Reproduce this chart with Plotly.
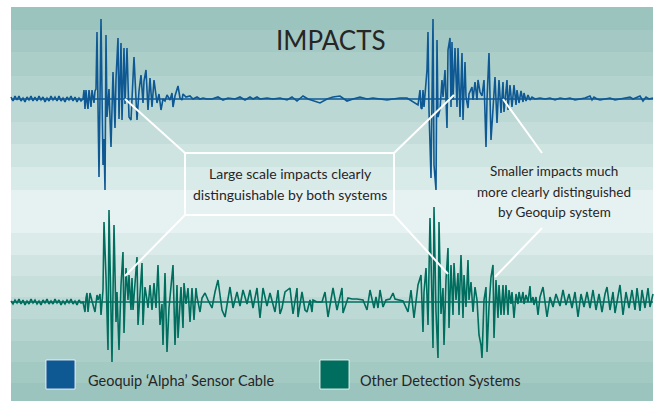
import plotly.graph_objects as go

# ---------------- data ----------------
title_text = "IMPACTS"
series_names = ["Geoquip \u2018Alpha\u2019 Sensor Cable", "Other Detection Systems"]
series_colors = ["#0e5894", "#006e5e"]
note_left = ["Large scale impacts clearly", "distinguishable by both systems"]
note_right = ["Smaller impacts much", "more clearly distinguished", "by Geoquip system"]

# (time, amplitude) samples of the Geoquip trace
blue_samples = [
    (11,2),(13,-2),(15,3),(17,-1),(19,3),(21,-2),(23,1),(25,-3),(27,2),(29,-1),(31,3),(33,-2),(35,2),(37,-2),
    (39,3),(41,-1),(43,2),(45,-3),(47,1),(49,-2),(51,3),(53,-1),(55,2),(57,-2),(59,3),(61,-2),(63,1),(65,-3),
    (67,2),(69,-1),(71,3),(73,-2),(75,2),(77,-3),(79,1),(81,-2),
    (83,0),(84,9),(85,-10),(86,9),(87,-3),(88,-10),(89,9),(90,-1),(91,-8),(92,9),(93,2),(94,-4),(95,8),
    (96,10),(97,67),(99,-78),(101,80),(103,-66),(104,-40),(105,-91),(106,64),(107,-18),(109,10),(111,-48),
    (113,27),(115,-29),(116,20),(118,61),(119,-20),(121,56),(122,-21),(124,51),(125,-5),(127,51),(129,-18),
    (131,-21),(134,42),(137,-21),(139,8),(141,24),(143,-4),(144,18),(146,29),(148,-11),(150,21),(152,-8),
    (154,19),(157,-4),(159,5),(161,-11),(163,0),
    (165,-2),(167,4),(170,-1),(172,6),(173,-8),(175,3),(178,13),(180,1),(182,-1),(183,5),(186,2),(190,3),
    (193,0),(197,2),(200,0),(203,1),(207,0),
    (212,0),(218,2),(223,-1),(228,1),(235,0),(240,2),(245,-1),(250,2),(253,0),(257,2),(260,0),(267,1),
    (273,0),(280,1),(287,-1),(292,2),(297,-2),(303,3),(308,0),(313,-2),(320,-4),(327,0),(333,2),(340,3),
    (347,-2),(353,0),(360,2),(367,0),(373,1),(380,0),(387,-1),(393,0),(400,1),(407,1),(413,-3),(418,-6),
    (420,9),(421,-9),(422,-10),(423,9),(424,-8),(425,5),(427,29),(428,67),(429,-11),(431,-79),(433,80),
    (434,-66),(436,-91),(437,59),(438,-18),(440,-10),(442,19),(443,2),(445,29),(447,-29),(448,49),(450,61),
    (451,-8),(452,57),(453,-1),(455,51),(457,-8),(458,51),(460,-18),(462,46),(463,-21),(465,37),(466,2),
    (468,-9),(469,5),(472,12),(473,-1),(475,17),(477,-1),(478,19),(480,7),(482,3),(484,19),(486,-48),
    (487,-1),(489,46),(491,-41),(493,-10),(495,22),(497,-24),(499,19),(501,-14),(503,17),(504,-13),
    (507,19),(508,-11),(510,14),(512,-8),(514,14),(516,-6),(517,9),(519,-4),(521,8),(523,-3),(524,6),
    (526,-2),(528,4),(530,-1),(532,2),(535,0),(540,1),
    (545,0),(550,1),(555,-1),(560,1),(565,0),(570,1),(575,-1),(580,0),(585,1),(590,3),(592,-1),(594,2),
    (597,0),(600,-1),(605,0),(610,1),(615,-1),(620,0),(625,1),(630,2),(633,0),(636,1),(640,3),(643,-2),
    (646,2),(649,0),(653,1),
]

# (time, amplitude) samples of the other systems' trace
green_samples = [
    (11,1),(13,-2),(15,2),(17,-1),(19,3),(21,-2),(23,2),(25,-3),(27,1),(29,-2),(31,3),(33,-1),(35,2),(37,-2),
    (39,1),(41,-3),(43,2),(45,-1),(47,3),(49,-2),(51,1),(53,-2),(55,3),(57,-1),(59,2),(61,-3),(63,1),(65,-2),
    (67,2),(69,-1),(71,3),(73,-2),(75,1),(77,-3),(79,2),(81,-1),
    (83,0),(85,-10),(86,4),(87,9),(88,-10),(90,9),(92,1),(95,-10),(97,7),(98,2),(100,8),(101,-13),(103,12),
    (104,80),(106,25),(108,-48),(109,92),(111,2),(112,-60),(114,77),(116,-20),(117,10),(119,-48),(121,17),
    (123,50),(124,-31),(126,34),(128,2),(129,27),(131,-8),(132,24),(133,-8),(135,24),(137,45),(138,-23),
    (140,12),(142,39),(143,-23),(145,15),(147,2),(148,-6),(150,17),(152,-8),(154,19),(156,-6),(158,37),
    (160,-23),(162,-2),(163,-43),(165,29),(167,-50),(169,-6),(171,20),(173,37),(175,-43),(177,17),(178,-36),
    (181,15),(183,-26),(184,19),(186,-2),(188,14),(190,-20),(192,14),(194,-18),(196,14),(197,5),(200,-10),
    (202,4),
    (205,9),(208,2),(212,-6),(215,10),(218,22),(222,-8),(225,-15),(230,15),(233,-6),(237,10),(240,-4),
    (243,12),(247,-2),(250,12),(253,-6),(257,14),(260,-16),(263,14),(267,-4),(270,9),(275,-10),(278,12),
    (280,-12),(282,-6),(285,10),(290,14),(293,-12),(297,14),(298,-15),(302,10),(305,-8),(307,-10),(310,2),
    (312,-10),(313,2),(317,0),(322,0),(325,10),(328,-15),(333,14),(337,-8),(342,14),(343,-11),(348,4),
    (352,3),(357,3),(363,2),(367,-8),(370,12),(374,-6),(376,5),(378,-6),(380,12),(383,-5),(386,2),(390,3),
    (393,9),(395,3),(398,2),(403,1),(408,-10),(411,12),
    (414,-16),(416,0),(418,17),(421,27),(423,-30),(424,10),(426,34),(428,-23),(429,27),(430,84),(432,0),
    (433,-46),(434,95),(436,-10),(438,-56),(439,80),(441,-12),(443,14),(444,-43),(446,22),(448,54),(449,-26),
    (451,37),(453,-13),(454,39),(456,2),(458,29),(459,-13),(461,47),(463,-16),(464,27),(466,-5),(468,42),
    (469,2),(471,20),(473,-10),(475,15),(477,2),(479,-33),(481,-43),(482,-56),(484,2),(486,15),(487,-50),
    (489,-5),(491,25),(493,37),(494,-36),(496,22),(498,-16),(499,17),(501,-13),(503,17),(504,-13),(506,17),
    (508,-13),(509,12),(511,-2),(512,10),(514,-16),(516,8),(518,-2),(519,10),(521,0),(523,10),(524,-2),
    (526,7),(528,0),(530,16),(531,0),(533,5),(534,-3),(536,5),(538,-13),
    (540,5),(543,15),(545,0),(547,-15),(550,5),(553,-5),(556,8),(560,-4),(563,12),(566,-3),(569,8),(572,-6),
    (575,10),(578,-15),(581,8),(584,-5),(587,10),(590,-6),(593,12),(596,-8),(599,8),(602,-10),(605,8),
    (607,15),(610,-8),(613,10),(615,-11),(618,8),(620,17),(623,-13),(626,10),(629,-6),(632,12),(635,-8),
    (637,14),(640,-9),(642,12),(645,-6),(648,14),(650,-5),(653,8),
]

# ---------------- layout constants ----------------
W, H = 657, 401
PANEL_X0, PANEL_X1, PANEL_Y0 = 11, 653, 7
BLUE_BASE, GREEN_BASE = 99, 302
FONT = "Lato, 'Open Sans', sans-serif"
TEXT_COLOR = "#262626"

stripe_edges = [7, 30, 52, 76, 99, 122, 144, 167, 190, 233, 255, 276, 297, 319, 341, 362, 383, 401]
stripe_colors = ["#9cc4be", "#a4c9c4", "#abcec9", "#b3d3ce", "#bbd8d4", "#c4ddda", "#cee4e1", "#d9ebe9",
                 "#e6f1f1", "#dbebe9", "#d0e5e2", "#c6dfdb", "#bdd9d5", "#b4d4cf", "#abcec9", "#a3c9c3",
                 "#9cc4be"]

shapes = []
for i, c in enumerate(stripe_colors):
    shapes.append(dict(type="rect", xref="x", yref="y", x0=PANEL_X0, x1=PANEL_X1,
                       y0=stripe_edges[i], y1=stripe_edges[i + 1], fillcolor=c,
                       line=dict(width=0), layer="below"))

# zero lines
for base, col in [(BLUE_BASE, series_colors[0]), (GREEN_BASE, series_colors[1])]:
    shapes.append(dict(type="line", xref="x", yref="y", x0=PANEL_X0, x1=PANEL_X1, y0=base, y1=base,
                       line=dict(color=col, width=1.3), layer="below"))

white = dict(color="white", width=2)
shapes.append(dict(type="rect", xref="x", yref="y", x0=185, x1=394, y0=153, y1=215, line=white))
for (xa, ya, xb, yb) in [(185, 153, 125, 99), (394, 153, 454, 95), (185, 215, 125, 276),
                         (394, 215, 448, 274), (542, 153, 503, 99), (542, 228, 495, 277)]:
    shapes.append(dict(type="line", xref="x", yref="y", x0=xa, y0=ya, x1=xb, y1=yb, line=white))

# legend squares
for x0, col in [(46, series_colors[0]), (320, series_colors[1])]:
    shapes.append(dict(type="rect", xref="x", yref="y", x0=x0, x1=x0 + 29, y0=360, y1=389,
                       fillcolor=col, line=dict(color="rgba(255,255,255,0.8)", width=1)))

fig = go.Figure()
for samples, base, name, col in [(blue_samples, BLUE_BASE, series_names[0], series_colors[0]),
                                 (green_samples, GREEN_BASE, series_names[1], series_colors[1])]:
    t = [s[0] for s in samples]
    a = [s[1] for s in samples]
    fig.add_trace(go.Scatter(x=t, y=[base - v for v in a], mode="lines", name=name,
                             line=dict(color=col, width=1.6), hoverinfo="skip"))

annotations = [
    dict(x=331, y=40, text=title_text, showarrow=False, xref="x", yref="y",
         font=dict(family=FONT, size=26, color=TEXT_COLOR)),
]
for i, line in enumerate(note_left):
    annotations.append(dict(x=290, y=173 + 21 * i, text=line, showarrow=False, xref="x", yref="y",
                            font=dict(family=FONT, size=14, color=TEXT_COLOR)))
for i, line in enumerate(note_right):
    annotations.append(dict(x=554, y=171 + 20.5 * i, text=line, showarrow=False, xref="x", yref="y",
                            font=dict(family=FONT, size=13.5, color=TEXT_COLOR)))
for x0, name in [(86, series_names[0]), (358, series_names[1])]:
    annotations.append(dict(x=x0, y=380, text=name, showarrow=False, xref="x", yref="y",
                            xanchor="left", font=dict(family=FONT, size=14.5, color=TEXT_COLOR)))

fig.update_layout(
    width=W, height=H, margin=dict(l=0, r=0, t=0, b=0),
    paper_bgcolor="white", plot_bgcolor="white",
    showlegend=False, shapes=shapes, annotations=annotations,
    xaxis=dict(range=[0, W], visible=False, fixedrange=True),
    yaxis=dict(range=[H, 0], visible=False, fixedrange=True),
)
fig.write_html("out.html", config={"displayModeBar": False},
               post_script="document.documentElement.style.margin='0';"
                           "document.body.style.margin='0';document.body.style.overflow='hidden';")
